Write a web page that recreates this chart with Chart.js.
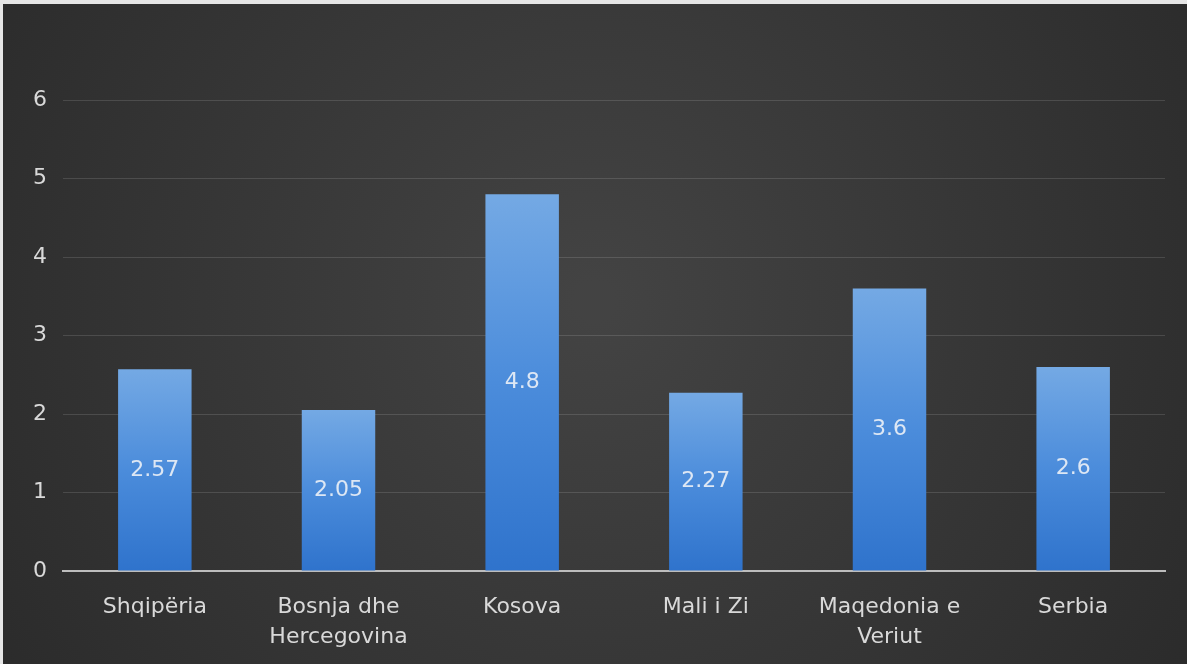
<!DOCTYPE html>
<html>
<head>
<meta charset="utf-8">
<script src="https://cdn.jsdelivr.net/npm/chart.js@4"></script>
<style>
  html, body { margin: 0; padding: 0; background: #e6e6e6; }
  #wrap { position: absolute; left: 3px; top: 4px; width: 1184px; height: 660px; }
</style>
</head>
<body>
<div id="wrap"><canvas id="chart"></canvas></div>
<script>
  // data
  const categories = ['Shqipëria', ['Bosnja dhe', 'Hercegovina'], 'Kosova', 'Mali i Zi', ['Maqedonia e', 'Veriut'], 'Serbia'];
  const values = [2.57, 2.05, 4.8, 2.27, 3.6, 2.6];
  const yTicks = [0, 1, 2, 3, 4, 5, 6];

  const FONT = "'DejaVu Sans', 'Open Sans', sans-serif";

  // dark radial backdrop
  const backdrop = {
    id: 'backdrop',
    beforeDraw(chart) {
      const { ctx, width, height } = chart;
      const g = ctx.createRadialGradient(width * 0.5, height * 0.45, 20, width * 0.5, height * 0.45, width * 0.62);
      g.addColorStop(0, '#434343');
      g.addColorStop(1, '#2a2a2a');
      ctx.save();
      ctx.fillStyle = g;
      ctx.fillRect(0, 0, width, height);
      ctx.restore();
    }
  };

  // value labels centred in each bar
  const barValues = {
    id: 'barValues',
    afterDatasetsDraw(chart) {
      const { ctx } = chart;
      const meta = chart.getDatasetMeta(0);
      ctx.save();
      ctx.font = '22px ' + FONT;
      ctx.fillStyle = '#dde7f4';
      ctx.textAlign = 'center';
      ctx.textBaseline = 'middle';
      meta.data.forEach((bar, i) => {
        ctx.fillText(String(values[i]), bar.x, (bar.y + bar.base) / 2);
      });
      ctx.restore();
    }
  };

  new Chart(document.getElementById('chart'), {
    type: 'bar',
    data: {
      labels: categories,
      datasets: [{
        data: values,
        barPercentage: 0.8,
        categoryPercentage: 0.5,
        backgroundColor: (c) => {
          const chart = c.chart;
          if (!chart.chartArea || !chart.scales.y) return '#4a8ad8';
          const y = chart.scales.y;
          const top = y.getPixelForValue(c.raw);
          const bottom = y.getPixelForValue(0);
          const g = chart.ctx.createLinearGradient(0, top, 0, bottom);
          g.addColorStop(0, '#74a9e4');
          g.addColorStop(0.5, '#4b8cdb');
          g.addColorStop(1, '#2f73cc');
          return g;
        },
        borderWidth: 0
      }]
    },
    options: {
      responsive: true,
      maintainAspectRatio: false,
      animation: false,
      layout: { padding: { top: 96, right: 22, bottom: 0, left: 0 } },
      plugins: { legend: { display: false }, tooltip: { enabled: false } },
      scales: {
        x: {
          afterFit: (axis) => { axis.height = 93; },
          grid: { display: false },
          border: { display: true, color: '#bdbdbd', width: 2 },
          ticks: { color: '#d9d9d9', font: { family: FONT, size: 22, lineHeight: 1.36 }, padding: 13, maxRotation: 0, autoSkip: false }
        },
        y: {
          min: yTicks[0],
          max: yTicks[yTicks.length - 1],
          afterBuildTicks: (axis) => { axis.ticks = yTicks.map(v => ({ value: v })); },
          afterFit: (axis) => { axis.width = 60; },
          border: { display: false },
          grid: { color: 'rgba(255,255,255,0.13)', lineWidth: 1, drawTicks: false },
          ticks: { color: '#d9d9d9', font: { family: FONT, size: 22 }, padding: 16 }
        }
      }
    },
    plugins: [backdrop, barValues]
  });
</script>
</body>
</html>
